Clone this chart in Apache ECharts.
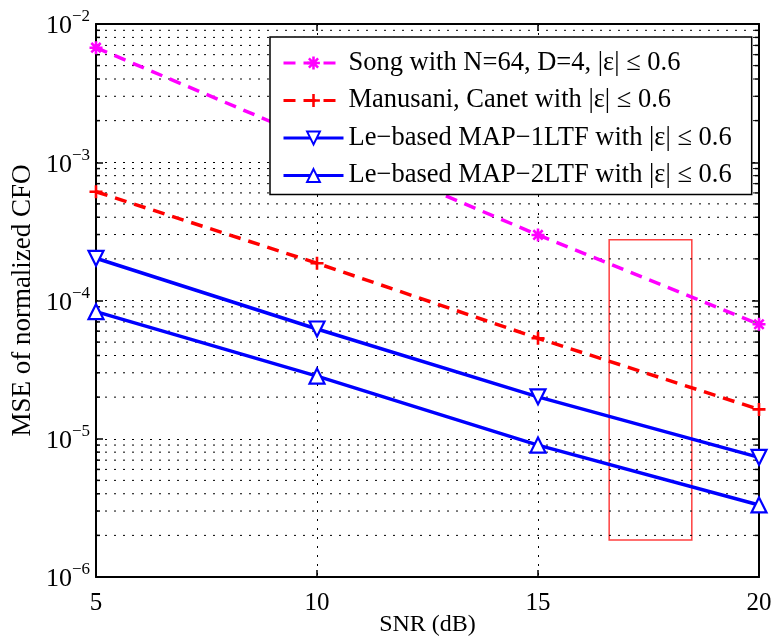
<!DOCTYPE html>
<html>
<head>
<meta charset="utf-8">
<script src="https://cdn.jsdelivr.net/npm/echarts@6/dist/echarts.min.js"></script>
<style>html,body{margin:0;padding:0;background:#fff}#c{width:774px;height:642px}</style>
</head>
<body>
<div id="c"></div>
<script>
// ---- data ----
const snr = [5, 10, 15, 20];
const songVals = [6.74e-3, 1.42e-3, 2.98e-4, 6.73e-5];
const manusaniVals = [6.12e-4, 1.86e-4, 5.33e-5, 1.63e-5];
const map1Vals = [2.02e-4, 6.22e-5, 2.01e-5, 7.34e-6];
const map2Vals = [8.30e-5, 2.84e-5, 9.0e-6, 3.32e-6];
const seriesNames = [
  'Song with N=64, D=4, |ε| ≤ 0.6',
  'Manusani, Canet with |ε| ≤ 0.6',
  'Le−based MAP−1LTF with |ε| ≤ 0.6',
  'Le−based MAP−2LTF with |ε| ≤ 0.6'
];
const xTicks = [5, 10, 15, 20];
const yDecades = [-6, -5, -4, -3, -2];
const highlightBox = [[16.61, 2.75e-4], [18.48, 1.85e-6]];

// minor log grid values (2..9 x 10^k)
const minorVals = [];
for (let k = yDecades[0]; k < yDecades[yDecades.length - 1]; k++) {
  for (let m = 2; m <= 9; m++) minorVals.push(m * Math.pow(10, k));
}

const FONT = 'Liberation Serif';
const DOT = [2, 7];
const asterisk = 'path://M0 8 L20 8 L20 12 L0 12 Z M8 0 L12 0 L12 20 L8 20 Z M1.4 4.2 L4.2 1.4 L18.6 15.8 L15.8 18.6 Z M15.8 1.4 L18.6 4.2 L4.2 18.6 L1.4 15.8 Z';
const plus = 'path://M8 0 L12 0 L12 8 L20 8 L20 12 L12 12 L12 20 L8 20 L8 12 L0 12 L0 8 L8 8 Z';

const pairs = vals => snr.map((x, i) => [x, vals[i]]);

const chart = echarts.init(document.getElementById('c'), null, {renderer: 'canvas'});
const xMin = xTicks[0], xMax = xTicks[xTicks.length - 1];
const yMin = Math.pow(10, yDecades[0]), yMax = Math.pow(10, yDecades[yDecades.length - 1]);

const commonX = {
  type: 'value', min: xMin, max: xMax, interval: 5,
  axisLine: {show: true, onZero: false, lineStyle: {color: '#000', width: 2}},
  axisTick: {show: true, inside: true, length: 7, lineStyle: {color: '#000', width: 1.5}},
};
const commonY = {
  type: 'log', logBase: 10, min: yMin, max: yMax,
  axisLine: {show: true, lineStyle: {color: '#000', width: 2}},
  axisTick: {show: true, inside: true, length: 7, lineStyle: {color: '#000', width: 1.5}},
  minorTick: {show: false}
};

chart.setOption({
  animation: false,
  backgroundColor: '#fff',
  textStyle: {fontFamily: FONT},
  grid: {left: 96, top: 24, right: 15, bottom: 65, containLabel: false, outerBoundsMode: 'none'},
  legend: {
    orient: 'vertical', left: 270, top: 37,
    data: seriesNames,
    backgroundColor: '#fff', borderColor: '#000', borderWidth: 1.5,
    padding: [11, 20, 4, 12],
    itemWidth: 60, itemHeight: 16, itemGap: 7.5,
    lineStyle: {width: 3},
    textStyle: {fontFamily: FONT, fontSize: 26.5, color: '#000', lineHeight: 30},
    selectedMode: false
  },
  xAxis: [
    Object.assign({}, commonX, {
      position: 'bottom',
      name: 'SNR (dB)', nameLocation: 'middle', nameGap: 36, nameMoveOverlap: false,
      nameTextStyle: {fontFamily: FONT, fontSize: 24, color: '#000'},
      axisLabel: {show: true, color: '#000', fontFamily: FONT, fontSize: 25, margin: 14},
      splitLine: {show: true, lineStyle: {color: '#000', width: 1, type: DOT}}
    }),
    Object.assign({}, commonX, {
      position: 'top', axisLabel: {show: false}, splitLine: {show: false}
    })
  ],
  yAxis: [
    Object.assign({}, commonY, {
      position: 'left',
      name: 'MSE of normalized CFO', nameLocation: 'middle', nameGap: 60, nameMoveOverlap: false,
      nameTextStyle: {fontFamily: FONT, fontSize: 27, color: '#000'},
      axisLabel: {
        show: true, margin: 6,
        formatter: v => '{b|10}{e|−' + Math.abs(Math.round(Math.log10(v))) + '}',
        rich: {
          b: {fontFamily: FONT, fontSize: 26, color: '#000', verticalAlign: 'bottom', padding: [0, 0, 0, 0]},
          e: {fontFamily: FONT, fontSize: 17, color: '#000', verticalAlign: 'bottom', padding: [0, 0, 14, 0]}
        }
      },
      splitLine: {show: true, lineStyle: {color: '#000', width: 1, type: DOT}}
    }),
    Object.assign({}, commonY, {
      position: 'right', axisLabel: {show: false}, splitLine: {show: false}
    })
  ],
  series: [
    {
      type: 'custom', name: 'minorgrid', silent: true, z: 1,
      xAxisIndex: 0, yAxisIndex: 0,
      data: minorVals.map(v => [xMin, v]),
      renderItem: (params, api) => {
        const v = api.value(1);
        const a = api.coord([xMin, v]);
        const b = api.coord([xMax, v]);
        return {
          type: 'group', children: [
            {type: 'line', shape: {x1: a[0], y1: a[1], x2: b[0], y2: b[1]}, style: {stroke: '#000', lineWidth: 1, lineDash: DOT}},
            {type: 'line', shape: {x1: a[0], y1: a[1], x2: a[0] + 4, y2: a[1]}, style: {stroke: '#000', lineWidth: 1.5}},
            {type: 'line', shape: {x1: b[0] - 4, y1: b[1], x2: b[0], y2: b[1]}, style: {stroke: '#000', lineWidth: 1.5}}
          ]
        };
      }
    },
    {
      type: 'line', name: seriesNames[0], data: pairs(songVals), z: 3,
      symbol: asterisk, symbolSize: 13,
      itemStyle: {color: '#ff00ff'},
      lineStyle: {color: '#ff00ff', width: 3.5, type: [12, 8]}
    },
    {
      type: 'line', name: seriesNames[1], data: pairs(manusaniVals), z: 3,
      symbol: plus, symbolSize: 13,
      itemStyle: {color: '#ff0000'},
      lineStyle: {color: '#ff0000', width: 3.5, type: [12, 8]},
      markArea: {
        silent: true,
        itemStyle: {color: 'rgba(0,0,0,0)', borderColor: 'rgba(255,30,30,0.85)', borderWidth: 1.5},
        data: [[{xAxis: highlightBox[0][0], yAxis: highlightBox[0][1]}, {xAxis: highlightBox[1][0], yAxis: highlightBox[1][1]}]]
      }
    },
    {
      type: 'line', name: seriesNames[2], data: pairs(map1Vals), z: 3,
      symbol: 'triangle', symbolRotate: 180, symbolSize: 15,
      itemStyle: {color: '#fff', borderColor: '#0000ff', borderWidth: 2.2},
      lineStyle: {color: '#0000ff', width: 3.5}
    },
    {
      type: 'line', name: seriesNames[3], data: pairs(map2Vals), z: 3,
      symbol: 'triangle', symbolSize: 15,
      itemStyle: {color: '#fff', borderColor: '#0000ff', borderWidth: 2.2},
      lineStyle: {color: '#0000ff', width: 3.5}
    }
  ]
});
</script>
</body>
</html>
